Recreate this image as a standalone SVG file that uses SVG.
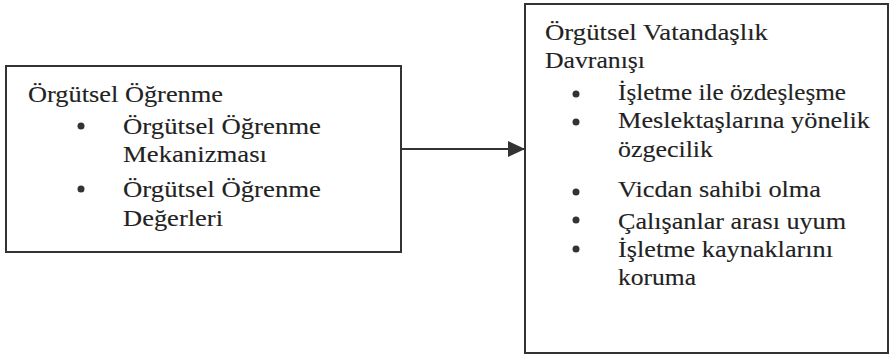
<svg xmlns="http://www.w3.org/2000/svg" width="890" height="356" viewBox="0 0 890 356">
<style>
.box{fill:#fff;stroke:#333;stroke-width:2}
.t{font-family:'Liberation Serif','Times New Roman',Times,serif;font-size:23.5px;fill:#222;stroke:#222;stroke-width:0.12}
.b{fill:#333}
.conn{stroke:#333;stroke-width:2;fill:none}
</style>
<defs>
<marker id="ah" markerWidth="17" markerHeight="16" refX="17" refY="8" orient="auto" markerUnits="userSpaceOnUse">
<path d="M0,0 L17,8 L0,16 Z" fill="#333"/>
</marker>
</defs>
<rect width="890" height="356" fill="#fff"/>
<g id="node-ogrenme">
<rect class="box" x="6" y="66" width="395" height="186"/>
<text class="t" x="28" y="102" textLength="195" lengthAdjust="spacingAndGlyphs">Örgütsel Öğrenme</text>
<circle class="b" cx="81" cy="126" r="3.5"/>
<text class="t" x="123" y="134" textLength="198" lengthAdjust="spacingAndGlyphs">Örgütsel Öğrenme</text>
<text class="t" x="123" y="162" textLength="144" lengthAdjust="spacingAndGlyphs">Mekanizması</text>
<circle class="b" cx="81" cy="189" r="3.5"/>
<text class="t" x="123" y="197" textLength="198" lengthAdjust="spacingAndGlyphs">Örgütsel Öğrenme</text>
<text class="t" x="123" y="226" textLength="100" lengthAdjust="spacingAndGlyphs">Değerleri</text>
</g>
<g id="node-vatandaslik">
<rect class="box" x="525" y="4" width="363" height="349"/>
<text class="t" x="545" y="40" textLength="223" lengthAdjust="spacingAndGlyphs">Örgütsel Vatandaşlık</text>
<text class="t" x="545" y="68" textLength="100" lengthAdjust="spacingAndGlyphs">Davranışı</text>
<circle class="b" cx="576" cy="94" r="3.5"/>
<text class="t" x="618" y="100" textLength="228" lengthAdjust="spacingAndGlyphs">İşletme ile özdeşleşme</text>
<circle class="b" cx="576" cy="122" r="3.5"/>
<text class="t" x="618" y="128" textLength="252" lengthAdjust="spacingAndGlyphs">Meslektaşlarına yönelik</text>
<text class="t" x="618" y="157" textLength="95" lengthAdjust="spacingAndGlyphs">özgecilik</text>
<circle class="b" cx="576" cy="192" r="3.5"/>
<text class="t" x="618" y="197" textLength="203" lengthAdjust="spacingAndGlyphs">Vicdan sahibi olma</text>
<circle class="b" cx="576" cy="220" r="3.5"/>
<text class="t" x="618" y="229" textLength="228" lengthAdjust="spacingAndGlyphs">Çalışanlar arası uyum</text>
<circle class="b" cx="576" cy="249" r="3.5"/>
<text class="t" x="618" y="257" textLength="215" lengthAdjust="spacingAndGlyphs">İşletme kaynaklarını</text>
<text class="t" x="618" y="285" textLength="78" lengthAdjust="spacingAndGlyphs">koruma</text>
</g>
<g id="connectors">
<line class="conn" x1="401" y1="149" x2="525" y2="149" marker-end="url(#ah)"/>
</g>
</svg>
